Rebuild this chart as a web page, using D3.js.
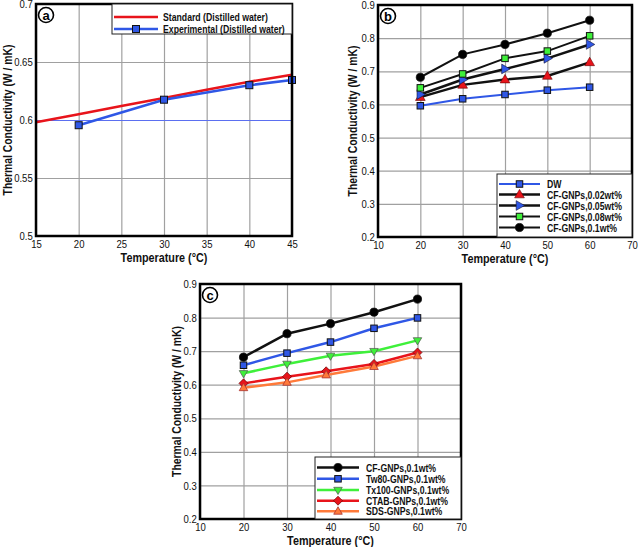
<!DOCTYPE html>
<html><head><meta charset="utf-8">
<script src="https://cdn.jsdelivr.net/npm/d3@7"></script>
<style>body{margin:0;background:#fff}svg{display:block;font-family:"Liberation Sans",Arial,sans-serif}</style>
</head><body><svg id="c" width="638" height="547"></svg>
<script>
// ---- Panel a data ----
const aTempStd = [15, 20, 25, 30, 35, 40, 45];
const aStandard = [0.598, 0.605, 0.612, 0.619, 0.626, 0.633, 0.639];
const aTempExp = [20, 30, 40, 45];
const aExperimental = [0.5955, 0.6175, 0.630, 0.6345];
const aXTicks = [15, 20, 25, 30, 35, 40, 45];
const aYTicks = [0.5, 0.55, 0.6, 0.65, 0.7];

// ---- Panel b data ----
const bTemps = [20, 30, 40, 50, 60];
const bDW = [0.596, 0.617, 0.630, 0.643, 0.652];
const bCF002 = [0.622, 0.659, 0.675, 0.686, 0.727];
const bCF005 = [0.630, 0.675, 0.707, 0.739, 0.781];
const bCF008 = [0.650, 0.692, 0.739, 0.761, 0.807];
const bCF01 = [0.682, 0.751, 0.781, 0.815, 0.854];
const bcXTicks = [10, 20, 30, 40, 50, 60, 70];
const bcYTicks = [0.2, 0.3, 0.4, 0.5, 0.6, 0.7, 0.8, 0.9];

// ---- Panel c data ----
const cTemps = [20, 30, 40, 50, 60];
const cTempsLow = [20, 30, 39, 50, 60];
const cCF = [0.682, 0.752, 0.782, 0.816, 0.855];
const cTw80 = [0.658, 0.694, 0.727, 0.768, 0.799];
const cTx100 = [0.634, 0.662, 0.686, 0.700, 0.732];
const cCTAB = [0.604, 0.624, 0.640, 0.662, 0.696];
const cSDS = [0.591, 0.607, 0.629, 0.654, 0.686];

const SX = 0.83; // horizontal squeeze of text, as in the reference
const svg = d3.select("#c");
const RED = "#e8141b", BLUE = "#2f57e6", GREEN = "#3ef03a", ORANGE = "#ff7a3a";

function ntext(g, x, y, str) {
  return g.append("text").attr("transform", `translate(${x},${y}) scale(${SX},1)`).text(str);
}

function marker(g, type, x, y, fill, s) {
  s = s || 6;
  if (type === "square") {
    g.append("rect").attr("x", x - s/2).attr("y", y - s/2).attr("width", s).attr("height", s)
      .attr("fill", fill).attr("stroke", "#111").attr("stroke-width", 1);
  } else if (type === "circle") {
    g.append("circle").attr("cx", x).attr("cy", y).attr("r", s*0.68).attr("fill", fill).attr("stroke", "#111").attr("stroke-width", 0.8);
  } else if (type === "triUp") {
    const r = s*0.85;
    g.append("path").attr("d", `M${x},${y-r}L${x+r*0.95},${y+r*0.65}L${x-r*0.95},${y+r*0.65}Z`).attr("fill", fill).attr("stroke", "#600").attr("stroke-width", 0.6);
  } else if (type === "triRight") {
    const r = s*0.85;
    g.append("path").attr("d", `M${x+r},${y}L${x-r*0.65},${y-r*0.95}L${x-r*0.65},${y+r*0.95}Z`).attr("fill", fill).attr("stroke", "#113").attr("stroke-width", 0.6);
  } else if (type === "triDown") {
    const r = s*0.75;
    g.append("path").attr("d", `M${x},${y+r}L${x+r*0.95},${y-r*0.6}L${x-r*0.95},${y-r*0.6}Z`).attr("fill", fill).attr("stroke", "#555").attr("stroke-width", 0.7);
  } else if (type === "diamond") {
    const r = s*0.75;
    g.append("path").attr("d", `M${x},${y-r}L${x+r},${y}L${x},${y+r}L${x-r},${y}Z`).attr("fill", fill).attr("stroke", "#600").attr("stroke-width", 0.7);
  } else if (type === "triUpO") {
    const r = s*0.75;
    g.append("path").attr("d", `M${x},${y-r}L${x+r*0.95},${y+r*0.65}L${x-r*0.95},${y+r*0.65}Z`).attr("fill", fill).attr("stroke", "#a33").attr("stroke-width", 0.8);
  }
}

function panel(cfg) {
  const x = d3.scaleLinear().domain(cfg.xd).range([cfg.l, cfg.r]);
  const y = d3.scaleLinear().domain(cfg.yd).range([cfg.b, cfg.t]);
  const g = svg.append("g");
  // grid
  g.append("g").attr("transform", `translate(0,${cfg.b})`)
    .call(d3.axisBottom(x).tickValues(cfg.xt).tickSize(-(cfg.b - cfg.t)).tickFormat(""))
    .call(s => { s.select(".domain").remove(); s.selectAll("line").attr("stroke", "#a0a0a0").attr("stroke-width", 1.2); });
  g.append("g").attr("transform", `translate(${cfg.l},0)`)
    .call(d3.axisLeft(y).tickValues(cfg.yt).tickSize(-(cfg.r - cfg.l)).tickFormat(""))
    .call(s => { s.select(".domain").remove(); s.selectAll("line").attr("stroke", d => (cfg.blueGrid === d ? "#5b6ff0" : "#a0a0a0")).attr("stroke-width", d => (cfg.blueGrid === d ? 1 : 1.2)); });
  // tick labels
  const xa = g.append("g").attr("transform", `translate(0,${cfg.b})`)
    .call(d3.axisBottom(x).tickValues(cfg.xt).tickSize(0).tickPadding(4).tickFormat(d3.format("d")));
  xa.select(".domain").remove();
  xa.selectAll("text").attr("font-size", 11.5).attr("fill", "#111").attr("font-family", "Liberation Sans, Arial, sans-serif")
    .attr("transform", `scale(${SX},1)`);
  const ya = g.append("g").attr("transform", `translate(${cfg.l},0)`)
    .call(d3.axisLeft(y).tickValues(cfg.yt).tickSize(0).tickPadding(4).tickFormat(d => +d.toFixed(2) + ""));
  ya.select(".domain").remove();
  ya.selectAll("text").attr("font-size", 11.5).attr("fill", "#111").attr("font-family", "Liberation Sans, Arial, sans-serif")
    .attr("transform", `scale(${SX},1)`);
  // titles
  ntext(g, (cfg.l + cfg.r) / 2, cfg.b + 26, "Temperature (°C)").attr("text-anchor", "middle")
    .attr("font-size", 13).attr("font-weight", "bold").attr("fill", "#111");
  g.append("text").attr("transform", `translate(${cfg.l - cfg.yto},${(cfg.t + cfg.b) / 2}) rotate(-90) scale(${SX},1)`).attr("text-anchor", "middle")
    .attr("font-size", 12.5).attr("font-weight", "bold").attr("fill", "#111").text("Thermal Conductivity (W / mK)");
  const line = d3.line().x(d => x(d[0])).y(d => y(d[1]));
  const plot = g.append("g");
  cfg.series.forEach(s => {
    const pts = s.xs.map((v, i) => [v, s.ys[i]]);
    plot.append("path").attr("d", line(pts)).attr("fill", "none").attr("stroke", s.line).attr("stroke-width", s.lw || 2.5);
  });
  cfg.series.forEach(s => {
    if (!s.marker) return;
    s.xs.forEach((v, i) => marker(plot, s.marker, x(v), y(s.ys[i]), s.fill, s.ms));
  });
  // border
  g.append("rect").attr("x", cfg.l).attr("y", cfg.t).attr("width", cfg.r - cfg.l).attr("height", cfg.b - cfg.t)
    .attr("fill", "none").attr("stroke", "#000").attr("stroke-width", 2.5);
  // label circle
  g.append("circle").attr("cx", cfg.l + 10).attr("cy", cfg.t + 11).attr("r", 7.5).attr("fill", "#fff").attr("stroke", "#000").attr("stroke-width", 1.6);
  g.append("text").attr("x", cfg.l + 10).attr("y", cfg.t + 15.5).attr("text-anchor", "middle").attr("font-size", 13).attr("font-weight", "bold").text(cfg.label);
  // legend
  const L = cfg.legend;
  const lg = g.append("g");
  lg.append("rect").attr("x", L.x).attr("y", L.y).attr("width", L.w).attr("height", L.h).attr("fill", "#fff").attr("stroke", "#222").attr("stroke-width", 1);
  cfg.series.forEach((s, i) => {
    const yy = L.rows[i];
    lg.append("line").attr("x1", L.x + 2).attr("x2", L.x + L.lineW).attr("y1", yy).attr("y2", yy).attr("stroke", s.line).attr("stroke-width", s.lw || 2.5);
    if (s.marker) marker(lg, s.marker, L.x + 2 + (L.lineW - 2) / 2, yy, s.fill, s.ms);
    ntext(lg, L.x + L.textX, yy + 4, s.name).attr("font-size", L.fs || 10.5).attr("font-weight", "bold").attr("fill", "#111");
  });
}

panel({
  label: "a", l: 36, r: 292, t: 4, b: 236, xd: [15, 45], yd: [0.5, 0.7], xt: aXTicks, yt: aYTicks, yto: 24, blueGrid: 0.6,
  series: [
    {name: "Standard (Distilled water)", xs: aTempStd, ys: aStandard, line: RED, lw: 2.5},
    {name: "Experimental (Distilled water)", xs: aTempExp, ys: aExperimental, line: BLUE, lw: 2.5, marker: "square", fill: BLUE, ms: 7}
  ],
  legend: {x: 112, y: 4, w: 180, h: 30, rows: [17, 29], lineW: 46, textX: 51, fs: 10.5}
});

panel({
  label: "b", l: 378, r: 632, t: 5, b: 237, xd: [10, 70], yd: [0.2, 0.9], xt: bcXTicks, yt: bcYTicks, yto: 21,
  series: [
    {name: "DW", xs: bTemps, ys: bDW, line: BLUE, lw: 2, marker: "square", fill: BLUE, ms: 6.5},
    {name: "CF-GNPs,0.02wt%", xs: bTemps, ys: bCF002, line: "#111", lw: 2.5, marker: "triUp", fill: RED, ms: 6},
    {name: "CF-GNPs,0.05wt%", xs: bTemps, ys: bCF005, line: "#111", lw: 2.5, marker: "triRight", fill: BLUE, ms: 6},
    {name: "CF-GNPs,0.08wt%", xs: bTemps, ys: bCF008, line: "#111", lw: 2, marker: "square", fill: GREEN, ms: 6.5},
    {name: "CF-GNPs,0.1wt%", xs: bTemps, ys: bCF01, line: "#111", lw: 2, marker: "circle", fill: "#000", ms: 6}
  ],
  legend: {x: 497, y: 174, w: 135, h: 63, rows: [184, 194.5, 205.5, 216.5, 227.5], lineW: 43, textX: 50, fs: 10.5}
});

panel({
  label: "c", l: 200, r: 461, t: 284, b: 519, xd: [10, 70], yd: [0.2, 0.9], xt: bcXTicks, yt: bcYTicks, yto: 19,
  series: [
    {name: "CF-GNPs,0.1wt%", xs: cTemps, ys: cCF, line: "#111", lw: 2.5, marker: "circle", fill: "#000", ms: 6},
    {name: "Tw80-GNPs,0.1wt%", xs: cTemps, ys: cTw80, line: BLUE, lw: 2.5, marker: "square", fill: BLUE, ms: 6.5},
    {name: "Tx100-GNPs,0.1wt%", xs: cTemps, ys: cTx100, line: GREEN, lw: 2.5, marker: "triDown", fill: GREEN, ms: 6},
    {name: "CTAB-GNPs,0.1wt%", xs: cTempsLow, ys: cCTAB, line: RED, lw: 2.5, marker: "diamond", fill: RED, ms: 6},
    {name: "SDS-GNPs,0.1wt%", xs: cTempsLow, ys: cSDS, line: ORANGE, lw: 2.5, marker: "triUpO", fill: ORANGE, ms: 6}
  ],
  legend: {x: 315, y: 457, w: 146, h: 62, rows: [467.5, 478.8, 490, 500.7, 511.3], lineW: 44, textX: 51, fs: 10.5}
});
</script></body></html>
